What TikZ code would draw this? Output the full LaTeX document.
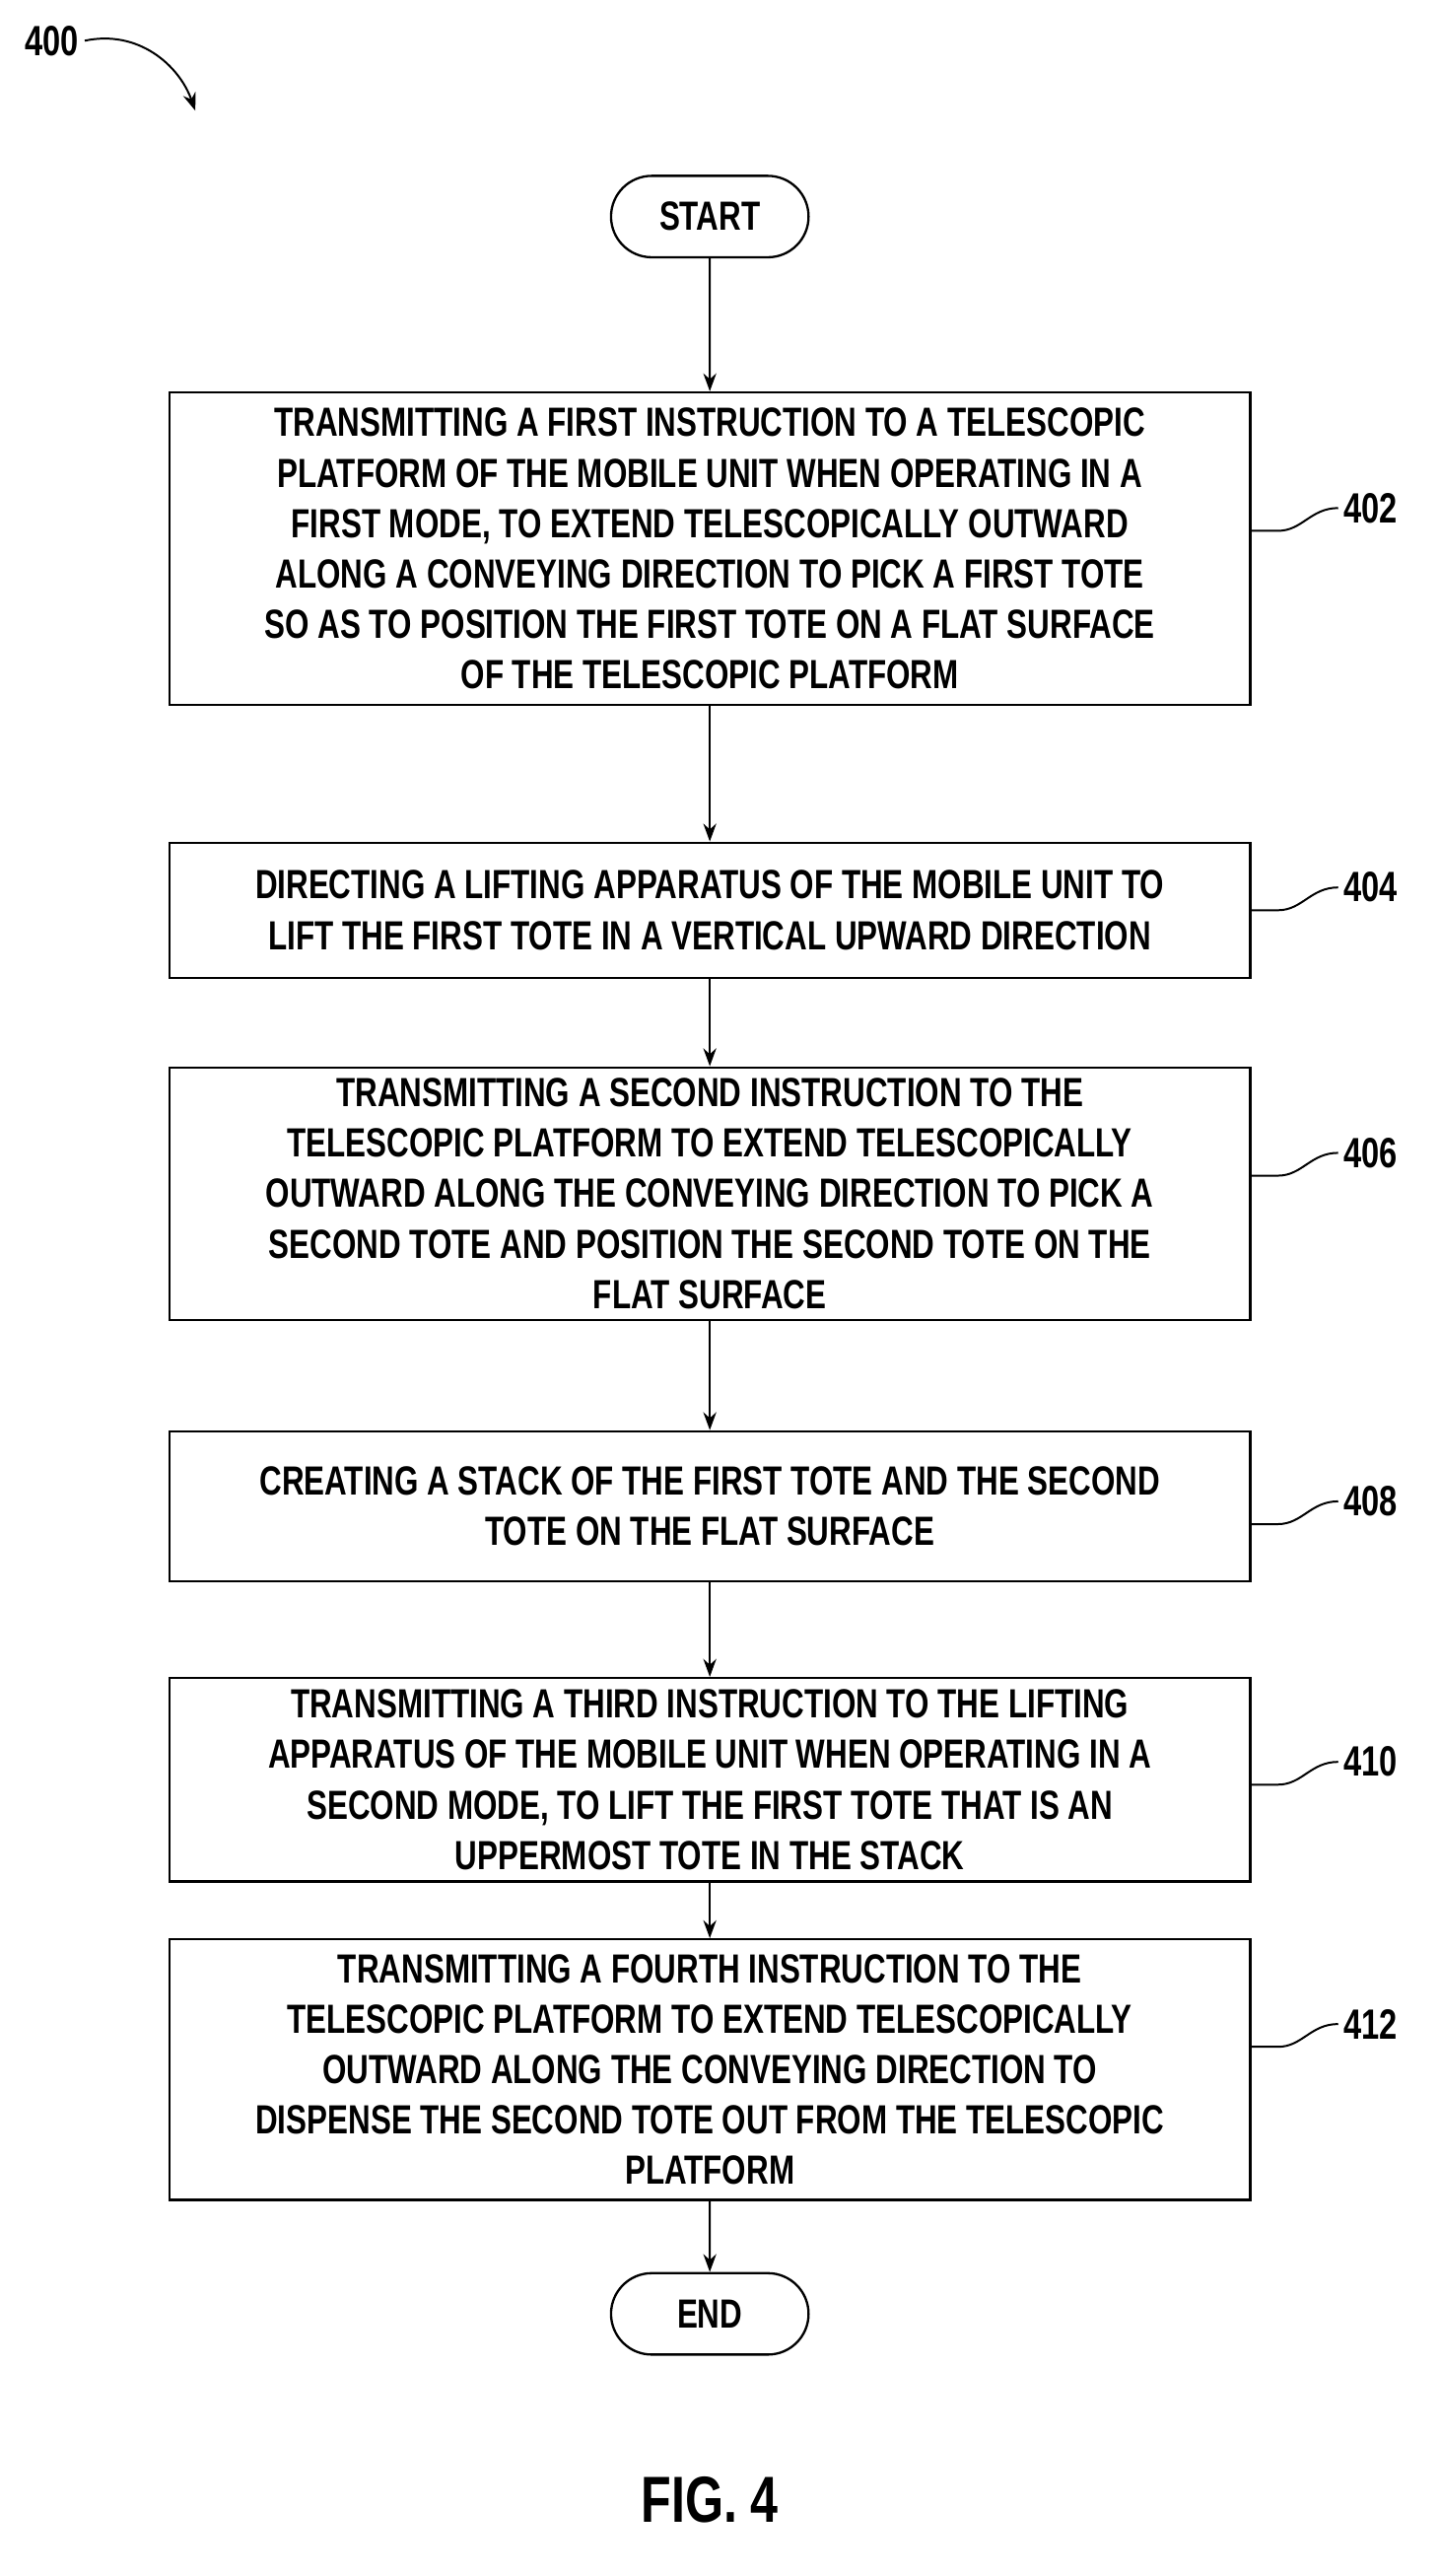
\documentclass[tikz,border=0pt]{standalone}
\usepackage{fontspec}
\setmainfont{Liberation Sans}[FakeStretch=0.76]
\usetikzlibrary{arrows.meta,shapes.misc}
\begin{document}
\begin{tikzpicture}[x=1pt,y=-1pt,
  every node/.style={font=\fontsize{25}{31}\selectfont\bfseries},
  box/.style={draw,line width=1.4pt,minimum width=664pt,align=center,inner sep=2pt},
  term/.style={draw,line width=1.4pt,rounded rectangle,minimum width=128pt,minimum height=50pt},
  arr/.style={-{Stealth[length=11pt,width=8pt]},line width=1.2pt},
  lbl/.style={font=\fontsize{26}{31}\selectfont\bfseries}]
\useasboundingbox (0,0) rectangle (884,1582);
\node[term] (s) at (436,133) {START};
\node[box,minimum height=192pt] (b402) at (436,337) {TRANSMITTING A FIRST INSTRUCTION TO A TELESCOPIC\\PLATFORM OF THE MOBILE UNIT WHEN OPERATING IN A\\FIRST MODE, TO EXTEND TELESCOPICALLY OUTWARD\\ALONG A CONVEYING DIRECTION TO PICK A FIRST TOTE\\SO AS TO POSITION THE FIRST TOTE ON A FLAT SURFACE\\OF THE TELESCOPIC PLATFORM};
\node[box,minimum height=83pt] (b404) at (436,559) {DIRECTING A LIFTING APPARATUS OF THE MOBILE UNIT TO\\LIFT THE FIRST TOTE IN A VERTICAL UPWARD DIRECTION};
\node[box,minimum height=155pt] (b406) at (436,733) {TRANSMITTING A SECOND INSTRUCTION TO THE\\TELESCOPIC PLATFORM TO EXTEND TELESCOPICALLY\\OUTWARD ALONG THE CONVEYING DIRECTION TO PICK A\\SECOND TOTE AND POSITION THE SECOND TOTE ON THE\\FLAT SURFACE};
\node[box,minimum height=92pt] (b408) at (436,925) {CREATING A STACK OF THE FIRST TOTE AND THE SECOND\\TOTE ON THE FLAT SURFACE};
\node[box,minimum height=125pt] (b410) at (436,1093) {TRANSMITTING A THIRD INSTRUCTION TO THE LIFTING\\APPARATUS OF THE MOBILE UNIT WHEN OPERATING IN A\\SECOND MODE, TO LIFT THE FIRST TOTE THAT IS AN\\UPPERMOST TOTE IN THE STACK};
\node[box,minimum height=160pt] (b412) at (436,1271) {TRANSMITTING A FOURTH INSTRUCTION TO THE\\TELESCOPIC PLATFORM TO EXTEND TELESCOPICALLY\\OUTWARD ALONG THE CONVEYING DIRECTION TO\\DISPENSE THE SECOND TOTE OUT FROM THE TELESCOPIC\\PLATFORM};
\node[term] (e) at (436,1421) {END};
\draw[arr] (s) -- (b402);
\draw[arr] (b402) -- (b404);
\draw[arr] (b404) -- (b406);
\draw[arr] (b406) -- (b408);
\draw[arr] (b408) -- (b410);
\draw[arr] (b410) -- (b412);
\draw[arr] (b412) -- (e);
\foreach \n/\y in {402/312,404/545,406/708,408/922,410/1082,412/1243}{
  \node[lbl,anchor=west] (l\n) at (822,\y) {\n};
  \draw[line width=1.2pt] (l\n.west) .. controls (805,\y) and (800,\y+14) .. (785,\y+14) -- (768,\y+14);
}
\node[lbl] (l400) at (32,25) {400};
\draw[arr] (l400.east) .. controls (85,18) and (110,40) .. (120,68);
\node[font=\fontsize{40}{44}\selectfont\bfseries] (fig) at (436,1535) {FIG. 4};
\end{tikzpicture}
\end{document}
